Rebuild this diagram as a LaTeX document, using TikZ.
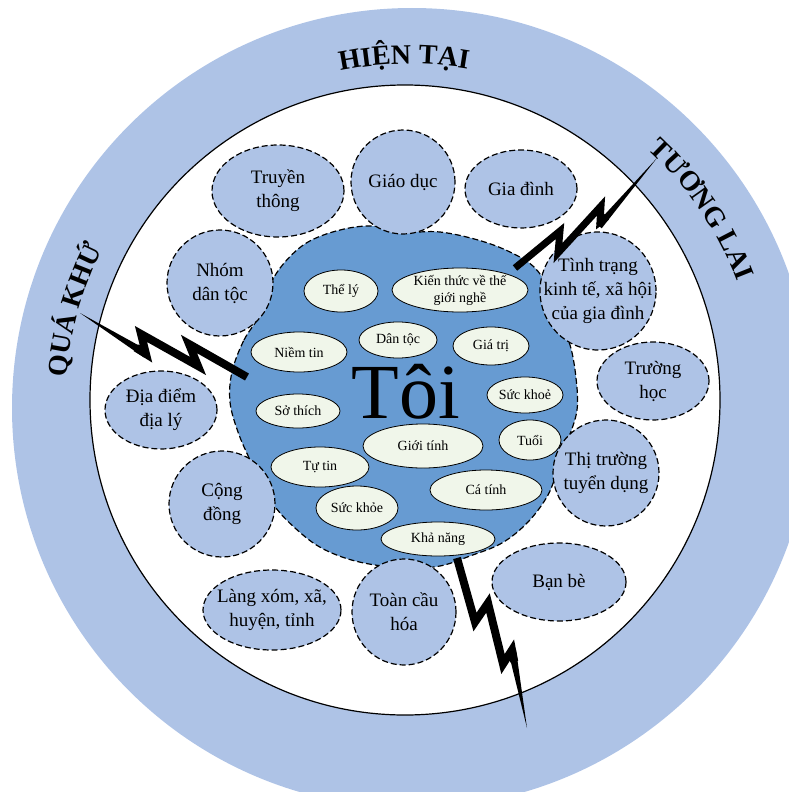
\documentclass[tikz,border=0pt]{standalone}
\usepackage{fontspec}
\setmainfont{Liberation Serif}
\usetikzlibrary{shapes.geometric,decorations.text}
\definecolor{ringblue}{RGB}{174,195,230}
\definecolor{blobblue}{RGB}{103,155,210}
\definecolor{paleyel}{RGB}{240,246,234}
\newcommand\arcfont{\fontsize{28}{30}\selectfont\bfseries}
\tikzset{
  bub/.style n args={2}{ellipse, draw, fill=ringblue, line width=1.2pt,
    dash pattern=on 6pt off 3pt, minimum width=#1pt, minimum height=#2pt, inner sep=0pt},
  bubtxt/.style={align=center, font=\fontsize{19}{24}\selectfont, inner sep=0pt},
  seed/.style n args={2}{ellipse, draw, fill=paleyel, line width=0.8pt,
    minimum width=#1pt, minimum height=#2pt, inner sep=0pt},
  seedtxt/.style={align=center, font=\fontsize{14}{17}\selectfont, inner sep=0pt},
  bolt/.style={draw, line width=#1, line join=miter, miter limit=12},
  arctext/.style={decorate, decoration={text along path, text align=center, text={|\arcfont|#1}}}
}
\begin{document}
\begin{tikzpicture}[x=1pt,y=-1pt]
  \useasboundingbox (0,0) rectangle (789,792);
  \clip (0,0) rectangle (789,792);
  \fill[ringblue] (412,408) circle[radius=400];
  \draw[fill=white, line width=1.2pt] (405,400) circle[radius=315];
  % time labels
  \path[arctext={HIỆN TẠI}] (410,406) ++(-121:342) arc[start angle=-121, end angle=-61, radius=342];
  \path[arctext={TƯƠNG LAI}] (410,406) ++(-64:350) arc[start angle=-64, end angle=-4, radius=350];
  \path[arctext={QUÁ KHỨ}] (410,406) ++(-194:345) arc[start angle=-194, end angle=-134, radius=345];
  % the self
  \draw[fill=blobblue, line width=1.2pt, dash pattern=on 6pt off 3pt]
    plot[smooth cycle, tension=0.6] coordinates {(232,372) (244,340) (262,312) (270,285) (285,262)
    (308,242) (340,230) (372,226) (404,232) (440,232) (478,240) (510,252) (535,268) (552,295)
    (558,320) (570,345) (576,378) (577,410) (568,440) (558,468) (548,495) (528,522) (502,543)
    (470,556) (440,566) (408,568) (375,565) (345,558) (318,546) (295,528) (276,508) (262,485)
    (250,460) (238,432) (230,402)};
  % surroundings
  \node[bub={132}{92}, label={[bubtxt]center:{Truyền\\thông}}] (truyen) at (278,191) {};
  \node[bub={104}{104}, label={[bubtxt]center:{Giáo dục}}] (giaoduc) at (403,182) {};
  \node[bub={112}{78}, label={[bubtxt]center:{Gia đình}}] (giadinh) at (521,189) {};
  \node[bub={106}{106}, label={[bubtxt]center:{Nhóm\\dân tộc}}] (nhom) at (220,283) {};
  \node[bub={116}{118}, label={[bubtxt]center:{Tình trạng\\kinh tế, xã hội\\của gia đình}}] (tinhtrang) at (598,291) {};
  \node[bub={112}{78}, label={[bubtxt]center:{Trường\\học}}] (truong) at (653,381) {};
  \node[bub={112}{78}, label={[bubtxt]center:{Địa điểm\\địa lý}}] (diadiem) at (161,410) {};
  \node[bub={106}{106}, label={[bubtxt]center:{Thị trường\\tuyển dụng}}] (thitruong) at (606,473) {};
  \node[bub={106}{106}, label={[bubtxt]center:{Cộng\\đồng}}] (congdong) at (222,504) {};
  \node[bub={134}{78}, label={[bubtxt]center:{Bạn bè}}] (banbe) at (559,582) {};
  \node[bub={138}{80}, label={[bubtxt]center:{Làng xóm, xã,\\huyện, tỉnh}}] (langxom) at (272,610) {};
  \node[bub={104}{106}, label={[bubtxt]center:{Toàn cầu\\hóa}}] (toancau) at (404,612) {};
  % inside
  \node[seed={74}{42}, label={[seedtxt]center:{Thể lý}}] (thely) at (341,291) {};
  \node[seed={136}{44}, label={[seedtxt]center:{Kiến thức về thế\\giới nghề}}] (kienthuc) at (460,290) {};
  \node[seed={96}{40}, label={[seedtxt]center:{Niềm tin}}] (niemtin) at (299,352) {};
  \node[seed={78}{36}, label={[seedtxt]center:{Dân tộc}}] (dantoc) at (398,340) {};
  \node[seed={76}{38}, label={[seedtxt]center:{Giá trị}}] (giatri) at (491,346) {};
  \node[seed={84}{34}, label={[seedtxt]center:{Sở thích}}] (sothich) at (298,411) {};
  \node[seed={76}{36}, label={[seedtxt]center:{Sức khoẻ}}] (suckhoea) at (525,395) {};
  \node[seed={62}{40}, label={[seedtxt]center:{Tuổi}}] (tuoi) at (530,440) {};
  \node[seed={120}{44}, label={[seedtxt]center:{Giới tính}}] (gioitinh) at (423,446) {};
  \node[seed={98}{40}, label={[seedtxt]center:{Tự tin}}] (tutin) at (320,467) {};
  \node[seed={112}{40}, label={[seedtxt]center:{Cá tính}}] (catinh) at (486,490) {};
  \node[seed={82}{44}, label={[seedtxt]center:{Sức khỏe}}] (suckhoeb) at (357,508) {};
  \node[seed={114}{34}, label={[seedtxt]center:{Khả năng}}] (khanang) at (438,539) {};
  \node[font=\fontsize{78}{80}\selectfont] (toi) at (406,392) {Tôi};
  % lightning
  \fill (657,158) -- (601.7,228.3) -- (596.3,223.7) -- cycle;
  \draw[bolt=7pt] (606.8,216.9) -- (600,222) -- (601,206) -- (558,253) -- (560,231) -- (515,268);
  \fill (80,313) -- (143.9,357.4) -- (148.1,350.6) -- cycle;
  \draw[bolt=8pt] (135.8,347.7) -- (146,354) -- (141,334) -- (198,366) -- (189,344) -- (247,377);
  \fill (527,728) -- (515.9,649.2) -- (508.1,650.8) -- cycle;
  \draw[bolt=8pt] (457,558) -- (475,622) -- (488,603) -- (503,664) -- (512,650) -- (514.3,661.8);
\end{tikzpicture}
\end{document}
